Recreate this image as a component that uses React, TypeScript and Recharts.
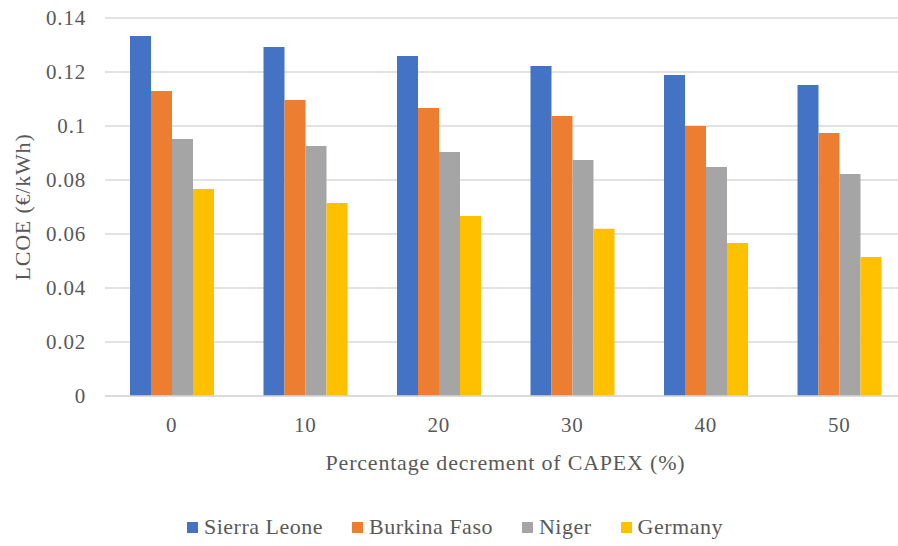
import { Bar, BarChart, CartesianGrid, Legend, XAxis, YAxis } from "recharts";

const categories = ["0", "10", "20", "30", "40", "50"];
const sierraLeone = [0.1333, 0.1293, 0.1259, 0.1222, 0.1189, 0.1152];
const burkinaFaso = [0.113, 0.1096, 0.1067, 0.1037, 0.1, 0.0974];
const niger = [0.0952, 0.0926, 0.0904, 0.0874, 0.0848, 0.0822];
const germany = [0.0767, 0.0715, 0.0667, 0.0619, 0.0567, 0.0515];
const yTicks = [0, 0.02, 0.04, 0.06, 0.08, 0.1, 0.12, 0.14];

const series = [
  { key: "sierraLeone", name: "Sierra Leone", color: "#4472C4" },
  { key: "burkinaFaso", name: "Burkina Faso", color: "#ED7D31" },
  { key: "niger", name: "Niger", color: "#A5A5A5" },
  { key: "germany", name: "Germany", color: "#FFC000" },
];

const data = categories.map((c, i) => ({
  capex: c,
  sierraLeone: sierraLeone[i],
  burkinaFaso: burkinaFaso[i],
  niger: niger[i],
  germany: germany[i],
}));

const FONT = "Times New Roman, Times, Tinos, Liberation Serif, serif";
const TEXT = "#595959";
const GRID = "#D9D9D9";

function LegendRow() {
  return (
    <div
      style={{
        height: 70,
        display: "flex",
        alignItems: "center",
        paddingLeft: 187,
        paddingTop: 32,
        boxSizing: "border-box",
        fontFamily: FONT,
        fontSize: 22,
        letterSpacing: 0.5,
        color: TEXT,
      }}
    >
      {series.map((s) => (
        <div key={s.key} style={{ display: "flex", alignItems: "center", marginRight: 29 }}>
          <span style={{ width: 11, height: 11, background: s.color, marginRight: 6 }} />
          <span>{s.name}</span>
        </div>
      ))}
    </div>
  );
}

function YTitle(props: any) {
  const vb = props.viewBox;
  const cx = 22;
  const cy = vb.y + vb.height / 2;
  return (
    <text
      x={cx}
      y={cy}
      transform={`rotate(-90 ${cx} ${cy})`}
      textAnchor="middle"
      dominantBaseline="central"
      fill={TEXT}
      fontFamily={FONT}
      fontSize={22}
      letterSpacing={0.8}
    >
      LCOE (€/kWh)
    </text>
  );
}

export default function App() {
  return (
    <div
      style={{
        position: "absolute",
        left: 0,
        top: 0,
        width: 898,
        height: 546,
        overflow: "hidden",
        background: "#fff",
      }}
    >
      <BarChart
        width={906}
        height={546}
        data={data}
        margin={{ top: 18, right: 0, bottom: 0, left: 0 }}
        barGap={0}
        barSize={21}
      >
        <CartesianGrid vertical={false} stroke={GRID} strokeWidth={1.5} />
        <XAxis
          dataKey="capex"
          height={80}
          tickLine={false}
          axisLine={{ stroke: GRID, strokeWidth: 1.5 }}
          tickMargin={15}
          tick={{ fill: TEXT, fontFamily: FONT, fontSize: 21, letterSpacing: 0.8 }}
          label={{
            value: "Percentage decrement of CAPEX (%)",
            position: "insideBottom",
            offset: 6,
            fill: TEXT,
            fontFamily: FONT,
            fontSize: 22,
            letterSpacing: 0.8,
          }}
        />
        <YAxis
          width={105}
          domain={[0, 0.14]}
          ticks={yTicks}
          tickFormatter={(v: number) => String(parseFloat(v.toFixed(2)))}
          tickLine={false}
          axisLine={false}
          tickMargin={13}
          tick={{ fill: TEXT, fontFamily: FONT, fontSize: 21, letterSpacing: 0.8 }}
          label={<YTitle />}
        />
        <Legend verticalAlign="bottom" content={<LegendRow />} />
        {series.map((s) => (
          <Bar
            key={s.key}
            dataKey={s.key}
            name={s.name}
            fill={s.color}
            isAnimationActive={false}
          />
        ))}
      </BarChart>
    </div>
  );
}
